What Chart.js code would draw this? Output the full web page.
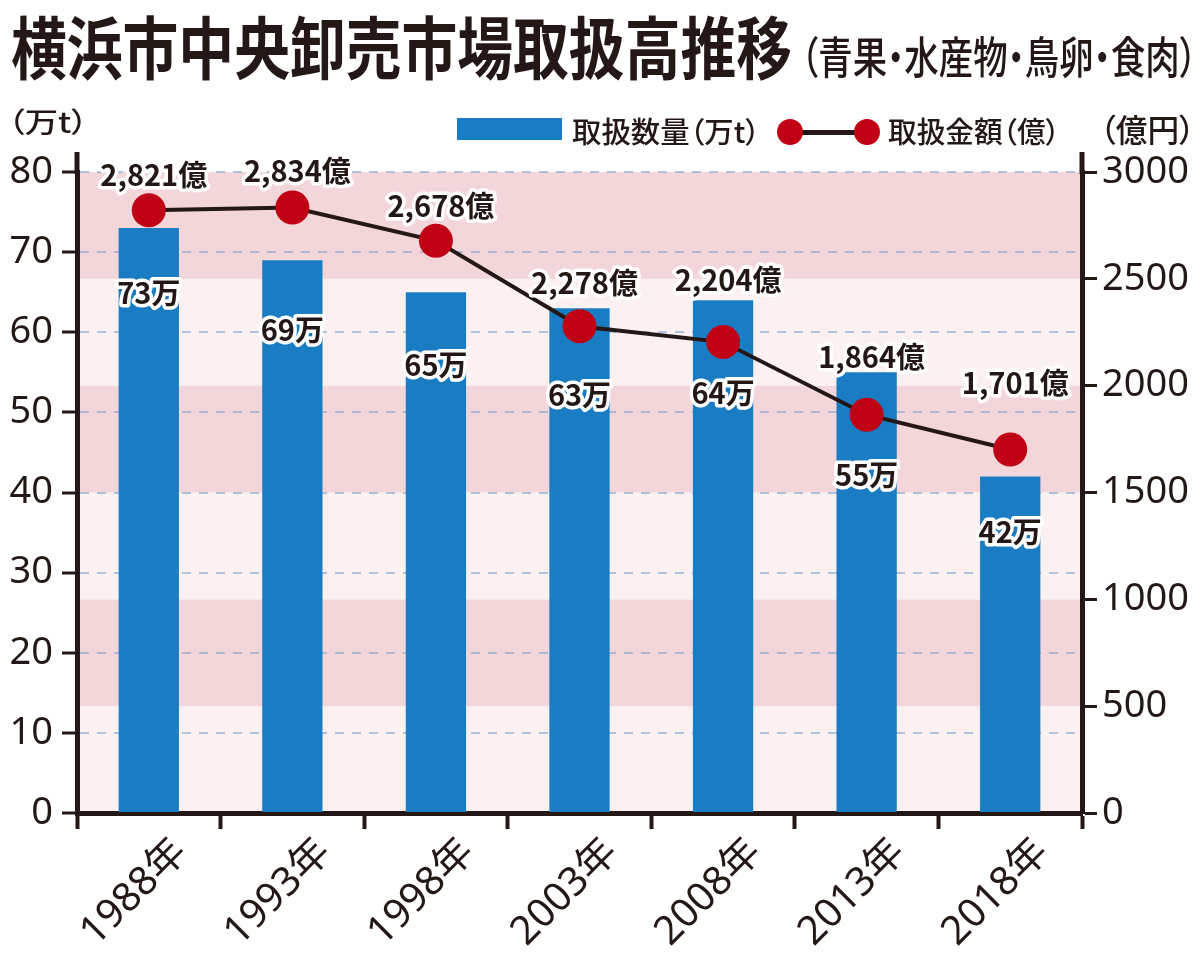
<!DOCTYPE html>
<html lang="ja">
<head>
<meta charset="utf-8">
<title>横浜市中央卸売市場取扱高推移</title>
<script src="https://cdn.jsdelivr.net/npm/chart.js@4.4.1/dist/chart.umd.min.js"></script>
<style>
html,body{margin:0;padding:0;background:#fff;}
#root{position:relative;width:1200px;height:959px;overflow:hidden;background:#fff;}
#c{position:absolute;left:0;top:0;}
.t{position:absolute;white-space:nowrap;line-height:1;color:#231815;font-family:"Noto Sans CJK JP","Noto Sans",sans-serif;font-feature-settings:"palt";transform-origin:0 0;}
.box{position:absolute;}
</style>
</head>
<body>
<div id="root">
  <canvas id="c" width="1200" height="959"></canvas>
  <div class="box" style="left:457px;top:118px;width:105px;height:22px;background:#1a7dc4;"></div>
  <div class="box" style="left:790px;top:129.5px;width:77px;height:5px;background:#231815;"></div>
  <div class="box" style="left:777px;top:119px;width:26px;height:26px;border-radius:50%;background:#c00014;"></div>
  <div class="box" style="left:854px;top:119px;width:26px;height:26px;border-radius:50%;background:#c00014;"></div>
</div>
<script>
// ---- data ----
const categories = ['1988年','1993年','1998年','2003年','2008年','2013年','2018年'];
const volume = [73, 69, 65, 63, 64, 55, 42];              // 取扱数量 (万t)
const amount = [2821, 2834, 2678, 2278, 2204, 1864, 1701]; // 取扱金額 (億円)
const leftTicks = [0, 10, 20, 30, 40, 50, 60, 70, 80];
const rightTicks = [0, 500, 1000, 1500, 2000, 2500, 3000];
const bandEdges = [0, 500, 1000, 1500, 2000, 2500, 3000];

// ---- style ----
const INK = '#231815';
const BLUE = '#1a7dc4';
const RED = '#c00014';
const PINK = '#f3d6d9';
const LIGHT = '#fbf1f1';
const GRID = 'rgba(128,164,206,0.6)';
const FAM = '"Noto Sans","Noto Sans CJK JP",sans-serif';
const lineLabelLift = [35, 36, 35, 43, 62, 58, 67];
const barLabelDrop = [65, 70, 73, 87, 93, 103, 56];

const root = document.getElementById('root');
function placeText(text, x0, x1, cy, size, weight){
  const el = document.createElement('div');
  el.className = 't';
  el.textContent = text;
  el.style.fontSize = size + 'px';
  el.style.fontWeight = weight;
  root.appendChild(el);
  const w = el.getBoundingClientRect().width;
  el.style.left = x0 + 'px';
  el.style.top = (cy - size * 0.556) + 'px';
  el.style.transform = 'scaleX(' + ((x1 - x0) / w) + ')';
}
placeText('横浜市中央卸売市場取扱高推移', 11, 792, 48.5, 68, 700);
placeText('（青果・水産物・鳥卵・食肉）', 801, 1197, 57.5, 44, 500);
placeText('（万t）', 8, 88, 122.5, 28, 500);
placeText('取扱数量（万t）', 572, 760, 132, 29, 500);
placeText('取扱金額（億）', 888, 1060, 132, 29, 500);
placeText('（億円）', 1100, 1195, 130, 32, 500);

const bandPlugin = {
  id: 'bands',
  beforeDraw(chart){
    const {ctx, chartArea: a, scales} = chart;
    const s = scales.y1;
    ctx.save();
    for (let k = 0; k < bandEdges.length - 1; k++){
      const yTop = s.getPixelForValue(bandEdges[k + 1]);
      const yBot = s.getPixelForValue(bandEdges[k]);
      ctx.fillStyle = (k % 2) ? PINK : LIGHT;
      ctx.fillRect(a.left, yTop, a.right - a.left, yBot - yTop);
    }
    ctx.restore();
  },
  afterDraw(chart){
    const {ctx, chartArea: a, scales} = chart;
    ctx.save();
    ctx.strokeStyle = INK;
    ctx.lineWidth = 5;
    ctx.beginPath();
    ctx.moveTo(scales.y.right, a.top - 20); ctx.lineTo(scales.y.right, a.top + 2);
    ctx.moveTo(scales.y1.left, a.top - 20); ctx.lineTo(scales.y1.left, a.top + 2);
    ctx.stroke();
    ctx.restore();
  }
};

const labelPlugin = {
  id: 'valueLabels',
  afterDatasetsDraw(chart){
    const ctx = chart.ctx;
    const barMeta = chart.getDatasetMeta(0);
    const lineMeta = chart.getDatasetMeta(1);
    ctx.save();
    ctx.font = '700 29px "Noto Sans CJK JP", sans-serif';
    ctx.textAlign = 'center';
    ctx.textBaseline = 'middle';
    ctx.lineJoin = 'round';
    ctx.lineWidth = 7;
    ctx.strokeStyle = '#ffffff';
    ctx.fillStyle = INK;
    barMeta.data.forEach((bar, i) => {
      const t = volume[i] + '万';
      const y = bar.y + barLabelDrop[i];
      ctx.strokeText(t, bar.x, y);
      ctx.fillText(t, bar.x, y);
    });
    lineMeta.data.forEach((pt, i) => {
      const t = amount[i].toLocaleString('en-US') + '億';
      const y = pt.y - lineLabelLift[i];
      ctx.strokeText(t, pt.x + 5, y);
      ctx.fillText(t, pt.x + 5, y);
    });
    ctx.restore();
  }
};

new Chart(document.getElementById('c'), {
  data: {
    labels: categories,
    datasets: [
      {
        type: 'bar', label: '取扱数量（万t）', data: volume, yAxisID: 'y',
        backgroundColor: BLUE, barPercentage: 0.42, categoryPercentage: 1, order: 2
      },
      {
        type: 'line', label: '取扱金額（億）', data: amount, yAxisID: 'y1',
        borderColor: INK, borderWidth: 4, tension: 0,
        pointRadius: 17, pointHoverRadius: 17, pointBackgroundColor: RED,
        pointBorderWidth: 0, pointBorderColor: RED, order: 1
      }
    ]
  },
  options: {
    responsive: false,
    animation: false,
    events: [],
    layout: { padding: { top: 172, left: 0, right: 0, bottom: 0 } },
    plugins: { legend: { display: false }, tooltip: { enabled: false }, title: { display: false } },
    scales: {
      x: {
        grid: { display: true, drawOnChartArea: false, offset: true, tickLength: 16, tickWidth: 4, tickColor: INK },
        border: { display: true, width: 5, color: INK },
        ticks: { font: { family: FAM, size: 40 }, color: INK, maxRotation: 45, minRotation: 45, padding: 0, labelOffset: 32, autoSkip: false },
        afterFit: s => { s.height = 146; }
      },
      y: {
        position: 'left', min: 0, max: 80,
        afterBuildTicks: s => { s.ticks = leftTicks.map(v => ({ value: v })); },
        grid: {
          color: c => (c.tick && c.tick.value === 0) ? 'rgba(0,0,0,0)' : GRID,
          lineWidth: 2, tickLength: 15, tickWidth: 3, tickColor: INK, tickBorderDash: []
        },
        border: { display: true, width: 5, color: INK, dash: [9, 8] },
        ticks: { font: { family: FAM, size: 38 }, color: INK, padding: 9, callback: v => String(v) },
        afterFit: s => { s.width = 77; }
      },
      y1: {
        position: 'right', min: 0, max: 3000,
        afterBuildTicks: s => { s.ticks = rightTicks.map(v => ({ value: v })); },
        grid: { drawOnChartArea: false, tickLength: 15, tickWidth: 3, tickColor: INK },
        border: { display: true, width: 5, color: INK },
        ticks: { font: { family: FAM, size: 38 }, color: INK, padding: 5, callback: v => String(v) },
        afterFit: s => { s.width = 118; }
      }
    }
  },
  plugins: [bandPlugin, labelPlugin]
});
</script>
</body>
</html>
